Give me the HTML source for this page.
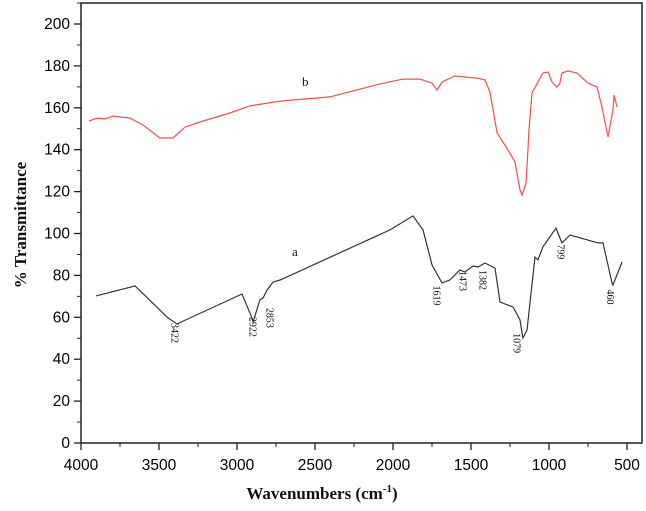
<!DOCTYPE html>
<html><head><meta charset="utf-8"><style>
html,body{margin:0;padding:0;background:#fff;}
svg{display:block;}
.tk{font-family:"Liberation Sans",sans-serif;font-size:15.5px;fill:#000;}
.ttl{font-family:"Liberation Serif",serif;font-size:17px;font-weight:bold;fill:#111;}
.ann{font-family:"Liberation Serif",serif;font-size:10px;fill:#111;}
</style></head><body>
<svg id="chart" width="646" height="511" viewBox="0 0 646 511" xmlns="http://www.w3.org/2000/svg"></svg>
<script>
const xTicks=[4000,3500,3000,2500,2000,1500,1000,500];
const yTicks=[0,20,40,60,80,100,120,140,160,180,200];
const waveA=[3904,3654,3442,3385,2968,2904,2897,2853,2833,2808,2769,2724,2019,1872,1808,1750,1686,1635,1571,1539,1487,1455,1410,1346,1314,1231,1186,1167,1141,1090,1071,1039,955,917,865,686,654,596,590,532];
const transA=[70.2,75,59.7,56.8,71.1,59.7,57.8,68.3,69.2,73,76.8,77.8,101.7,108.4,101.7,85,76.4,77.8,82.6,81.6,84.5,84,85.9,83.5,67.3,64.9,58.7,50.1,53.9,88.8,87.4,93.6,102.6,95.5,99.3,95.5,95.5,76.4,75.4,86.4];
const waveB=[3949,3897,3846,3795,3686,3603,3494,3410,3333,3237,3045,2917,2724,2404,2083,1936,1827,1750,1718,1686,1603,1462,1410,1378,1333,1263,1218,1186,1173,1147,1128,1109,1039,1006,981,949,930,917,878,821,750,692,660,622,590,583,564];
const transB=[153.7,155.1,154.7,156.1,155.1,151.8,145.6,145.6,150.8,153.2,157.5,160.9,163.2,165.2,171.4,173.7,173.7,171.8,168.5,172.3,175.2,174.2,173.3,167.5,148,139.9,134.1,120.8,118.4,124.1,149.4,167.1,176.6,177.1,172.3,169.9,171.8,176.6,177.6,176.6,171.8,169.9,160.4,146.1,159,166.1,160.4];
const peakLabels=["3422","2922","2853","1619","1473","1382","1079","799","460"];
const peakWave=[3397,2897,2788,1718,1551,1423,1205,923,607];
const peakT=[52.5,55.4,59.7,70.4,77.3,77.8,47.7,91.2,69.7];

const X=w=>81+(4000-w)*0.156;
const Y=t=>443-t*2.095;
const NS="http://www.w3.org/2000/svg";
const svg=document.getElementById('chart');
function mk(tag,attrs,parent){const e=document.createElementNS(NS,tag);for(const k in attrs)e.setAttribute(k,attrs[k]);(parent||svg).appendChild(e);return e;}

const frame=mk('rect',{x:81,y:3,width:561,height:440,fill:'none',stroke:'#222','stroke-width':1.5});



xTicks.forEach(v=>{
  const l=mk('line',{x1:X(v),x2:X(v),y1:443,y2:450,stroke:'#222','stroke-width':1.3});
  
  
  const m=mk('line',{x1:X(v-250),x2:X(v-250),y1:443,y2:447,stroke:'#222','stroke-width':1});
  
  
  const t=mk('text',{x:X(v),y:470,'text-anchor':'middle',class:'tk'});t.textContent=v;
  
  
});
yTicks.forEach(v=>{
  const l=mk('line',{x1:74,x2:81,y1:Y(v),y2:Y(v),stroke:'#222','stroke-width':1.3});
  
  
  if(v<210){const m=mk('line',{x1:77,x2:81,y1:Y(v+10),y2:Y(v+10),stroke:'#222','stroke-width':1});
  
  }
  const t=mk('text',{x:70,y:Y(v)+5,'text-anchor':'end',class:'tk'});t.textContent=v;
  
  
});

function line(ws,ts,color,name){
  const d=ws.map((w,i)=>(i?'L':'M')+X(w).toFixed(1)+','+Y(ts[i]).toFixed(1)).join(' ');
  const p=mk('path',{d:d,fill:'none',stroke:color,'stroke-width':1.2});
  
  
}
line(waveA,transA,'#333','series-a-line');
line(waveB,transB,'#f05050','series-b-line');

peakLabels.forEach((s,i)=>{
  const x=X(peakWave[i]),y=Y(peakT[i]);
  const t=mk('text',{x:x,y:y,class:'ann','text-anchor':'middle',transform:`rotate(90 ${x} ${y})`,dy:'3.5'});
  t.textContent=s;
  
  
});

const la=mk('text',{x:292,y:256,class:'ann','style':'font-size:13px'});la.textContent='a';


const lb=mk('text',{x:302,y:86,class:'ann','style':'font-size:13px'});lb.textContent='b';



const xt=mk('text',{x:322,y:499,'text-anchor':'middle',class:'ttl'});
xt.innerHTML='Wavenumbers (cm<tspan dy="-7" font-size="11">-1</tspan><tspan dy="7">)</tspan>';


const yt=mk('text',{x:26,y:225,'text-anchor':'middle',class:'ttl',transform:'rotate(-90 26 225)'});
yt.textContent='% Transmittance';


</script>
</body></html>
